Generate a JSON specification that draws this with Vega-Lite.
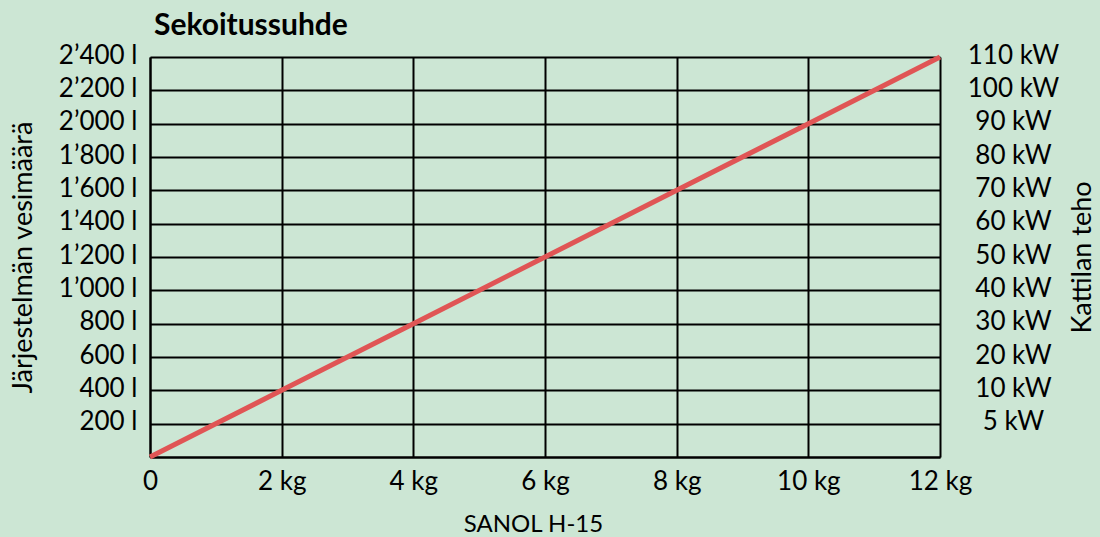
{
  "$schema": "https://vega.github.io/schema/vega-lite/v6.json",
  "autosize": {"type": "none"},
  "width": 790,
  "height": 400,
  "padding": {"left": 150, "top": 57, "right": 160, "bottom": 80},
  "background": "#cce6d4",
  "title": {
    "text": "Sekoitussuhde",
    "anchor": "start",
    "frame": "group",
    "font": "Lato",
    "fontSize": 30,
    "fontWeight": "bold",
    "color": "#000000",
    "offset": 1,
    "dx": 4
  },
  "data": {
    "values": [
      {"kg": 0, "l": 0},
      {"kg": 2, "l": 400},
      {"kg": 4, "l": 800},
      {"kg": 6, "l": 1200},
      {"kg": 8, "l": 1600},
      {"kg": 10, "l": 2000},
      {"kg": 12, "l": 2400}
    ]
  },
  "config": {
    "view": {"stroke": null},
    "axis": {
      "labelFont": "Lato",
      "titleFont": "Lato",
      "labelFontSize": 26,
      "titleFontSize": 24,
      "titleFontWeight": "normal",
      "labelColor": "#000000",
      "titleColor": "#000000",
      "ticks": false,
      "domainColor": "#000000",
      "domainWidth": 2,
      "gridColor": "#000000",
      "gridWidth": 2,
      "gridOpacity": 1
    }
  },
  "encoding": {
    "x": {
      "field": "kg",
      "type": "quantitative",
      "scale": {"domain": [0, 12], "nice": false},
      "axis": {
        "title": "SANOL H-15",
        "titleX": 383,
        "values": [0, 2, 4, 6, 8, 10, 12],
        "labelExpr": "datum.value == 0 ? '0' : datum.value + ' kg'",
        "labelPadding": 11,
        "titlePadding": 18,
        "labelFlush": false,
        "grid": true
      }
    }
  },
  "layer": [
    {
      "mark": {"type": "line", "color": "#e05555", "strokeWidth": 5, "clip": false},
      "encoding": {
        "y": {
          "field": "l",
          "type": "quantitative",
          "scale": {"domain": [0, 2400], "nice": false},
          "axis": {
            "title": "Järjestelmän vesimäärä",
            "titleFontSize": 27,
            "orient": "left",
            "values": [0, 200, 400, 600, 800, 1000, 1200, 1400, 1600, 1800, 2000, 2200, 2400],
            "labelExpr": "datum.value == 0 ? '' : replace(format(datum.value, ','), ',', '’') + ' l'",
            "labelPadding": 13,
            "labelOffset": -2,
            "titlePadding": 21,
            "labelFlush": false,
            "grid": true
          }
        }
      }
    },
    {
      "mark": {"type": "line", "strokeOpacity": 0},
      "encoding": {
        "y": {
          "field": "l",
          "type": "quantitative",
          "scale": {"domain": [0, 2400], "nice": false},
          "axis": {
            "title": "Kattilan teho",
            "titleFontSize": 27,
            "titleAngle": 270,
            "titleBaseline": "top",
            "orient": "right",
            "domain": false,
            "grid": false,
            "values": [200, 400, 600, 800, 1000, 1200, 1400, 1600, 1800, 2000, 2200, 2400],
            "labelExpr": "datum.value == 200 ? '5 kW' : ((datum.value - 200) / 20) + ' kW'",
            "labelAlign": "center",
            "labelPadding": 73,
            "labelOffset": -2,
            "titlePadding": 11,
            "labelFlush": false
          }
        }
      }
    }
  ],
  "resolve": {"scale": {"y": "independent"}}
}
